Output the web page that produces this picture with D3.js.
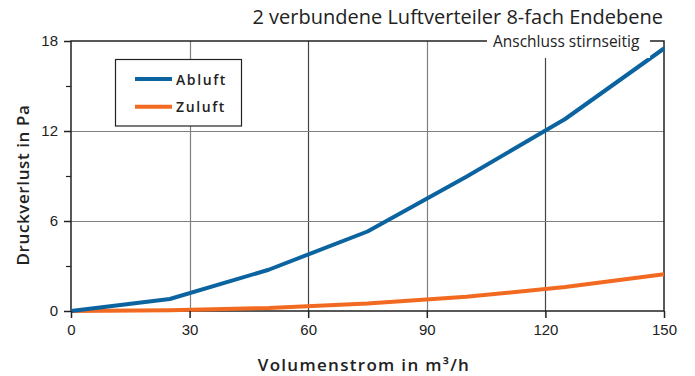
<!DOCTYPE html>
<html>
<head>
<meta charset="utf-8">
<script src="https://cdn.jsdelivr.net/npm/d3@7"></script>
<style>
  html, body { margin: 0; padding: 0; background: #fff; }
  svg { display: block; font-family: "Open Sans", "Noto Sans", sans-serif; }
</style>
</head>
<body>
<svg id="chart" width="695" height="376"></svg>
<script>
// Volumenstrom (m³/h) und Druckverlust (Pa)
const volumenstrom = [0, 25, 50, 75, 100, 125, 150];
const abluft = [0, 0.8, 2.75, 5.3, 8.95, 12.8, 17.5];
const zuluft = [0, 0.05, 0.2, 0.5, 0.95, 1.6, 2.45];
const xTicks = [0, 30, 60, 90, 120, 150];
const yTicks = [0, 6, 12, 18];
const yMinorTicks = [3, 9, 15];
const seriesNames = ["Abluft", "Zuluft"];

const title = "2 verbundene Luftverteiler 8-fach Endebene";
const subtitle = "Anschluss stirnseitig";
const xTitle = "Volumenstrom in m³/h";
const yTitle = "Druckverlust in Pa";

const colors = { Abluft: "#0b64a0", Zuluft: "#f26a21" };
const ink = "#222";

const svg = d3.select("#chart");
const m = { left: 71, right: 664, top: 41, bottom: 311 };

const x = d3.scaleLinear().domain([0, 150]).range([m.left, m.right]);
const y = d3.scaleLinear().domain([0, 18]).range([m.bottom, m.top]);

// Gitternetz
const g = svg.append("g");
g.selectAll("line.vgrid").data(xTicks.filter(d => d > 0 && d < 150)).join("line")
  .attr("x1", d => Math.round(x(d)) + 0.5).attr("x2", d => Math.round(x(d)) + 0.5)
  .attr("y1", m.top).attr("y2", m.bottom)
  .attr("stroke", d => (d % 60 === 0) ? "#444" : "#808080").attr("stroke-width", 1.2);
g.selectAll("line.hgrid").data(yTicks.filter(d => d > 0 && d < 18)).join("line")
  .attr("x1", m.left).attr("x2", m.right)
  .attr("y1", d => Math.round(y(d)) + 0.5).attr("y2", d => Math.round(y(d)) + 0.5)
  .attr("stroke", "#808080").attr("stroke-width", 1.2);

// Rahmen
svg.append("rect")
  .attr("x", m.left).attr("y", m.top)
  .attr("width", m.right - m.left).attr("height", m.bottom - m.top)
  .attr("fill", "none").attr("stroke", ink).attr("stroke-width", 1.5);

// Kurven
const line = d3.line().x((d, i) => x(volumenstrom[i])).y(d => y(d));
const series = { Abluft: abluft, Zuluft: zuluft };
["Zuluft", "Abluft"].forEach(name => {
  svg.append("path")
    .datum(series[name])
    .attr("d", line)
    .attr("fill", "none")
    .attr("stroke", colors[name])
    .attr("stroke-width", 4)
    .attr("stroke-linejoin", "round");
});

// Untertitel mit weißem Hintergrund auf dem oberen Rahmen
svg.append("rect").attr("x", 487).attr("y", 32).attr("width", 163).attr("height", 26).attr("fill", "#fff");
svg.append("text")
  .attr("x", 493).attr("y", 47)
  .attr("font-size", 15.5).attr("fill", ink)
  .text(subtitle);

// Achsen
const xAxis = d3.axisBottom(x).tickValues(xTicks).tickSize(7).tickPadding(6).tickFormat(d3.format("d"));
const xa = svg.append("g").attr("transform", `translate(0,${m.bottom})`).call(xAxis);
xa.select(".domain").remove();
xa.selectAll("line").attr("stroke", ink).attr("stroke-width", 1.5);
xa.selectAll("text").attr("font-size", 15).attr("fill", ink).attr("font-family", null);

const yAxis = d3.axisLeft(y).tickValues(yTicks).tickSize(7).tickPadding(6).tickFormat(d3.format("d"));
const ya = svg.append("g").attr("transform", `translate(${m.left},0)`).call(yAxis);
ya.select(".domain").remove();
ya.selectAll("line").attr("stroke", ink).attr("stroke-width", 1.5);
ya.selectAll("text").attr("font-size", 15).attr("fill", ink).attr("font-family", null);

const yMinor = d3.axisLeft(y).tickValues(yMinorTicks).tickSize(5).tickFormat("");
const ym = svg.append("g").attr("transform", `translate(${m.left},0)`).call(yMinor);
ym.select(".domain").remove();
ym.selectAll("line").attr("stroke", ink).attr("stroke-width", 1.2);

// Titel
svg.append("text")
  .attr("x", 663).attr("y", 24).attr("text-anchor", "end")
  .attr("font-size", 20).attr("fill", ink)
  .text(title);

svg.append("text")
  .attr("x", 364).attr("y", 371).attr("text-anchor", "middle")
  .attr("font-size", 17).attr("font-weight", 600).attr("letter-spacing", 1.3).attr("fill", ink)
  .text(xTitle);

svg.append("text")
  .attr("transform", `translate(29,185) rotate(-90)`)
  .attr("text-anchor", "middle")
  .attr("font-size", 17).attr("font-weight", 600).attr("letter-spacing", 0.6).attr("fill", ink)
  .text(yTitle);

// Legende
const lg = svg.append("g");
lg.append("rect").attr("x", 115.5).attr("y", 59.5).attr("width", 126).attr("height", 66.5)
  .attr("fill", "#fff").attr("stroke", ink).attr("stroke-width", 1.2);
seriesNames.forEach((name, i) => {
  const yy = 79 + i * 27.7;
  lg.append("line").attr("x1", 135).attr("x2", 172).attr("y1", yy).attr("y2", yy)
    .attr("stroke", colors[name]).attr("stroke-width", 4);
  lg.append("text").attr("x", 176).attr("y", yy + 5.5)
    .attr("font-size", 14).attr("font-weight", 600).attr("letter-spacing", 1.6).attr("fill", ink)
    .text(name);
});
</script>
</body>
</html>
